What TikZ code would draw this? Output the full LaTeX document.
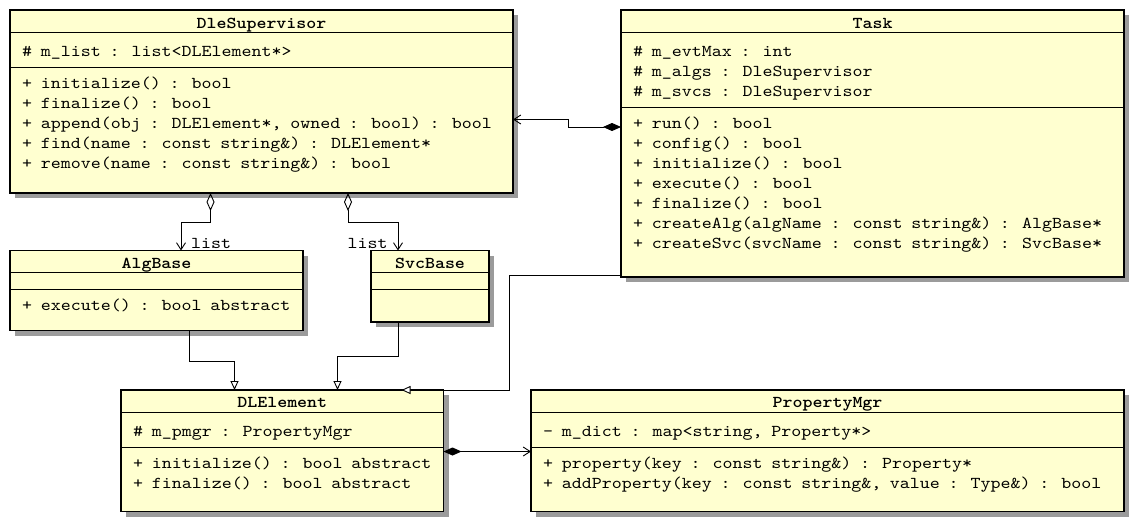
\documentclass[tikz,border=0pt]{standalone}
\usepackage{fontspec}
\newfontfamily\umlmono{lmmono10-regular.otf}[FakeStretch=1.147, WordSpace=0.872, BoldFont=lmmonolt10-bold.otf, BoldFeatures={FakeStretch=1.147}]
\usetikzlibrary{arrows.meta,shadows}
\definecolor{clsfill}{RGB}{255,255,208}
\definecolor{shd}{RGB}{155,155,155}
\newcommand\umlfont{\umlmono\fontsize{16.6}{20}\selectfont}
\tikzset{
  cls/.style={draw, line width=1.2pt, fill=clsfill, rectangle, anchor=north west,
    inner sep=0pt, outer sep=0pt,
    drop shadow={shadow xshift=5pt, shadow yshift=-5pt, fill=shd, opacity=1}},
  txt/.style={anchor=base west, inner sep=0pt, font=\umlfont},
  ttl/.style={anchor=base, inner sep=0pt, font=\umlfont\bfseries},
  sepline/.style={line width=1pt},
  conn/.style={line width=0.9pt},
  compo/.style={conn, {Diamond[length=18pt,width=8pt]}-{Straight Barb[length=7pt,width=9pt]}},
  aggr/.style={conn, {Diamond[open,length=18pt,width=8pt]}-{Straight Barb[length=7pt,width=9pt]}},
  gen/.style={conn, -{Triangle[length=9pt,width=8pt,fill=white]}},
}
\begin{document}
\begin{tikzpicture}[x=1pt,y=-1pt]
\path[use as bounding box, fill=white] (0,0) rectangle (1134,522);

% ---------- DleSupervisor ----------
\node[cls, minimum width=503pt, minimum height=183pt] (sup) at (10,10) {};
\draw[sepline] (sup.west |- 0,32) -- (sup.east |- 0,32);
\draw[sepline] (sup.west |- 0,67) -- (sup.east |- 0,67);
\node[ttl] (supt) at (sup.north |- 0,28.5) {DleSupervisor};
\node[txt] (supa1) at (22,56) {\# m\_list : list<DLElement*>};
\node[txt] (supm1) at (22,88) {+ initialize() : bool};
\node[txt] (supm2) at (22,108) {+ finalize() : bool};
\node[txt] (supm3) at (22,128) {+ append(obj : DLElement*, owned : bool) : bool};
\node[txt] (supm4) at (22,148) {+ find(name : const string\&) : DLElement*};
\node[txt] (supm5) at (22,168) {+ remove(name : const string\&) : bool};

% ---------- Task ----------
\node[cls, minimum width=503pt, minimum height=267pt] (task) at (621,10) {};
\draw[sepline] (task.west |- 0,32) -- (task.east |- 0,32);
\draw[sepline] (task.west |- 0,107) -- (task.east |- 0,107);
\node[ttl] (taskt) at (task.north |- 0,28.5) {Task};
\node[txt] (taska1) at (633,56) {\# m\_evtMax : int};
\node[txt] (taska2) at (633,76) {\# m\_algs : DleSupervisor};
\node[txt] (taska3) at (633,96) {\# m\_svcs : DleSupervisor};
\node[txt] (taskm1) at (633,128) {+ run() : bool};
\node[txt] (taskm2) at (633,148) {+ config() : bool};
\node[txt] (taskm3) at (633,168) {+ initialize() : bool};
\node[txt] (taskm4) at (633,188) {+ execute() : bool};
\node[txt] (taskm5) at (633,208) {+ finalize() : bool};
\node[txt] (taskm6) at (633,228) {+ createAlg(algName : const string\&) : AlgBase*};
\node[txt] (taskm7) at (633,248) {+ createSvc(svcName : const string\&) : SvcBase*};

% ---------- AlgBase ----------
\node[cls, minimum width=293pt, minimum height=80pt] (alg) at (10,250.5) {};
\draw[sepline] (alg.west |- 0,272.5) -- (alg.east |- 0,272.5);
\draw[sepline] (alg.west |- 0,289.5) -- (alg.east |- 0,289.5);
\node[ttl] (algt) at (alg.north |- 0,268.5) {AlgBase};
\node[txt] (algm1) at (22,310) {+ execute() : bool abstract};

% ---------- SvcBase ----------
\node[cls, minimum width=118pt, minimum height=71.5pt] (svc) at (371,250.5) {};
\draw[sepline] (svc.west |- 0,272.5) -- (svc.east |- 0,272.5);
\draw[sepline] (svc.west |- 0,289.5) -- (svc.east |- 0,289.5);
\node[ttl] (svct) at (svc.north |- 0,268.5) {SvcBase};

% ---------- DLElement ----------
\node[cls, minimum width=322.5pt, minimum height=121.5pt] (dle) at (121,390) {};
\draw[sepline] (dle.west |- 0,412.5) -- (dle.east |- 0,412.5);
\draw[sepline] (dle.west |- 0,447.5) -- (dle.east |- 0,447.5);
\node[ttl] (dlet) at (dle.north |- 0,407.5) {DLElement};
\node[txt] (dlea1) at (133,436.5) {\# m\_pmgr : PropertyMgr};
\node[txt] (dlem1) at (133,468) {+ initialize() : bool abstract};
\node[txt] (dlem2) at (133,488) {+ finalize() : bool abstract};

% ---------- PropertyMgr ----------
\node[cls, minimum width=593pt, minimum height=121.5pt] (pmgr) at (531,390) {};
\draw[sepline] (pmgr.west |- 0,412.5) -- (pmgr.east |- 0,412.5);
\draw[sepline] (pmgr.west |- 0,447.5) -- (pmgr.east |- 0,447.5);
\node[ttl] (pmgrt) at (pmgr.north |- 0,407.5) {PropertyMgr};
\node[txt] (pmgra1) at (543,436.5) {- m\_dict : map<string, Property*>};
\node[txt] (pmgrm1) at (543,468) {+ property(key : const string\&) : Property*};
\node[txt] (pmgrm2) at (543,488) {+ addProperty(key : const string\&, value : Type\&) : bool};

% ---------- connectors ----------
\draw[compo] (task.west |- 0,127) -- (568,127) -- (568,119.5) -- (sup.east |- 0,119.5);
\draw[aggr] (sup.south -| 210.5,0) -- (210.5,222.5) -- (181,222.5) -- (alg.north -| 181,0);
\node[txt] (lbl1) at (191,248) {list};
\draw[aggr] (sup.south -| 348,0) -- (348,222.5) -- (398,222.5) -- (svc.north -| 398,0);
\node[txt] (lbl2) at (347.5,248) {list};
\draw[gen] (alg.south -| 189.5,0) -- (189.5,361.5) -- (234.5,361.5) -- (dle.north -| 234.5,0);
\draw[gen] (svc.south -| 398,0) -- (398,356) -- (337.5,356) -- (dle.north -| 337.5,0);
\draw[gen] (task.west |- 0,275) -- (509.5,275) -- (509.5,390) -- (dle.north -| 401.5,0);
\draw[compo] (dle.east |- 0,451.5) -- (pmgr.west |- 0,451.5);
\end{tikzpicture}
\end{document}
